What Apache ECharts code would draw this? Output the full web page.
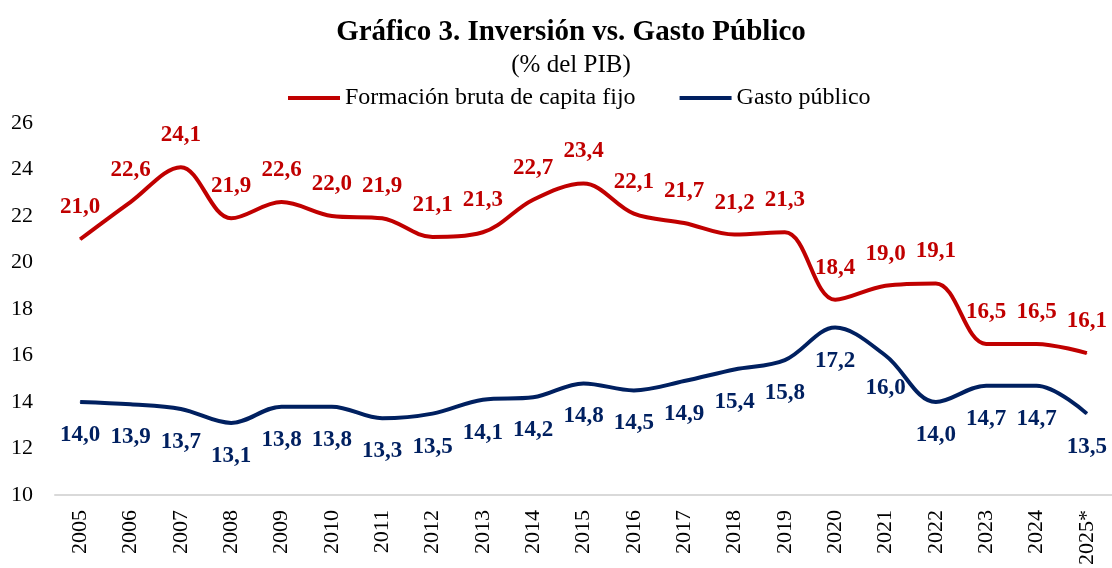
<!DOCTYPE html>
<html>
<head>
<meta charset="utf-8">
<script src="https://cdn.jsdelivr.net/npm/echarts@6/dist/echarts.min.js"></script>
<style>
  html, body { margin: 0; padding: 0; background: #fff; }
  #chart { width: 1112px; height: 568px; }
</style>
</head>
<body>
<div id="chart"></div>
<script>
var anios = ["2005", "2006", "2007", "2008", "2009", "2010", "2011", "2012", "2013", "2014", "2015",
             "2016", "2017", "2018", "2019", "2020", "2021", "2022", "2023", "2024", "2025*"];
var formacionBruta = [21.0, 22.6, 24.1, 21.9, 22.6, 22.0, 21.9, 21.1, 21.3, 22.7, 23.4,
                      22.1, 21.7, 21.2, 21.3, 18.4, 19.0, 19.1, 16.5, 16.5, 16.1];
var gastoPublico = [14.0, 13.9, 13.7, 13.1, 13.8, 13.8, 13.3, 13.5, 14.1, 14.2, 14.8,
                    14.5, 14.9, 15.4, 15.8, 17.2, 16.0, 14.0, 14.7, 14.7, 13.5];
var fuente = 'Liberation Serif';

// etiquetas con coma decimal
function etiqueta(v) {
    return v.value.toFixed(1).replace('.', ',');
}

var myChart = echarts.init(document.getElementById('chart'));

var option = {
    animation: false,
    title: {
        text: 'Gráfico 3. Inversión vs. Gasto Público',
        subtext: '(% del PIB)',
        left: 566,
        textAlign: 'center',
        top: 13,
        itemGap: 6,
        textStyle: { fontFamily: fuente, fontWeight: 'bold', fontSize: 29, color: '#000' },
        subtextStyle: { fontFamily: fuente, fontSize: 25, color: '#000' }
    },
    legend: {
        top: 81,
        left: 283,
        itemWidth: 52,
        itemHeight: 4,
        itemGap: 44,
        icon: 'rect',
        textStyle: { fontFamily: fuente, fontSize: 24, color: '#000' },
        data: ['Formación bruta de capita fijo', 'Gasto público']
    },
    grid: { left: 55, top: 123, width: 1057, height: 374 },
    xAxis: [{
        type: 'category',
        data: anios,
        axisLine: { lineStyle: { color: '#d9d9d9', width: 2 } },
        axisTick: { show: false },
        axisLabel: { rotate: 90, fontFamily: fuente, fontSize: 22, color: '#000', margin: 15 }
    }],
    yAxis: [{
        type: 'value',
        min: 10,
        max: 26,
        interval: 2,
        splitLine: { show: false },
        axisLine: { show: false },
        axisTick: { show: false },
        axisLabel: { fontFamily: fuente, fontSize: 22, color: '#000', margin: 22 }
    }],
    series: [
        {
            name: 'Formación bruta de capita fijo',
            type: 'line',
            smooth: 0.35,
            symbol: 'circle',
            symbolSize: 1,
            data: formacionBruta,
            itemStyle: { color: '#C00000' },
            lineStyle: { color: '#C00000', width: 4 },
            label: {
                show: true, position: 'top', distance: 20, formatter: etiqueta,
                fontFamily: fuente, fontWeight: 'bold', fontSize: 23, color: '#C00000'
            }
        },
        {
            name: 'Gasto público',
            type: 'line',
            smooth: 0.35,
            symbol: 'circle',
            symbolSize: 1,
            data: gastoPublico,
            itemStyle: { color: '#002060' },
            lineStyle: { color: '#002060', width: 4 },
            label: {
                show: true, position: 'bottom', distance: 21, formatter: etiqueta,
                fontFamily: fuente, fontWeight: 'bold', fontSize: 23, color: '#002060'
            }
        }
    ]
};

myChart.setOption(option);
</script>
</body>
</html>
